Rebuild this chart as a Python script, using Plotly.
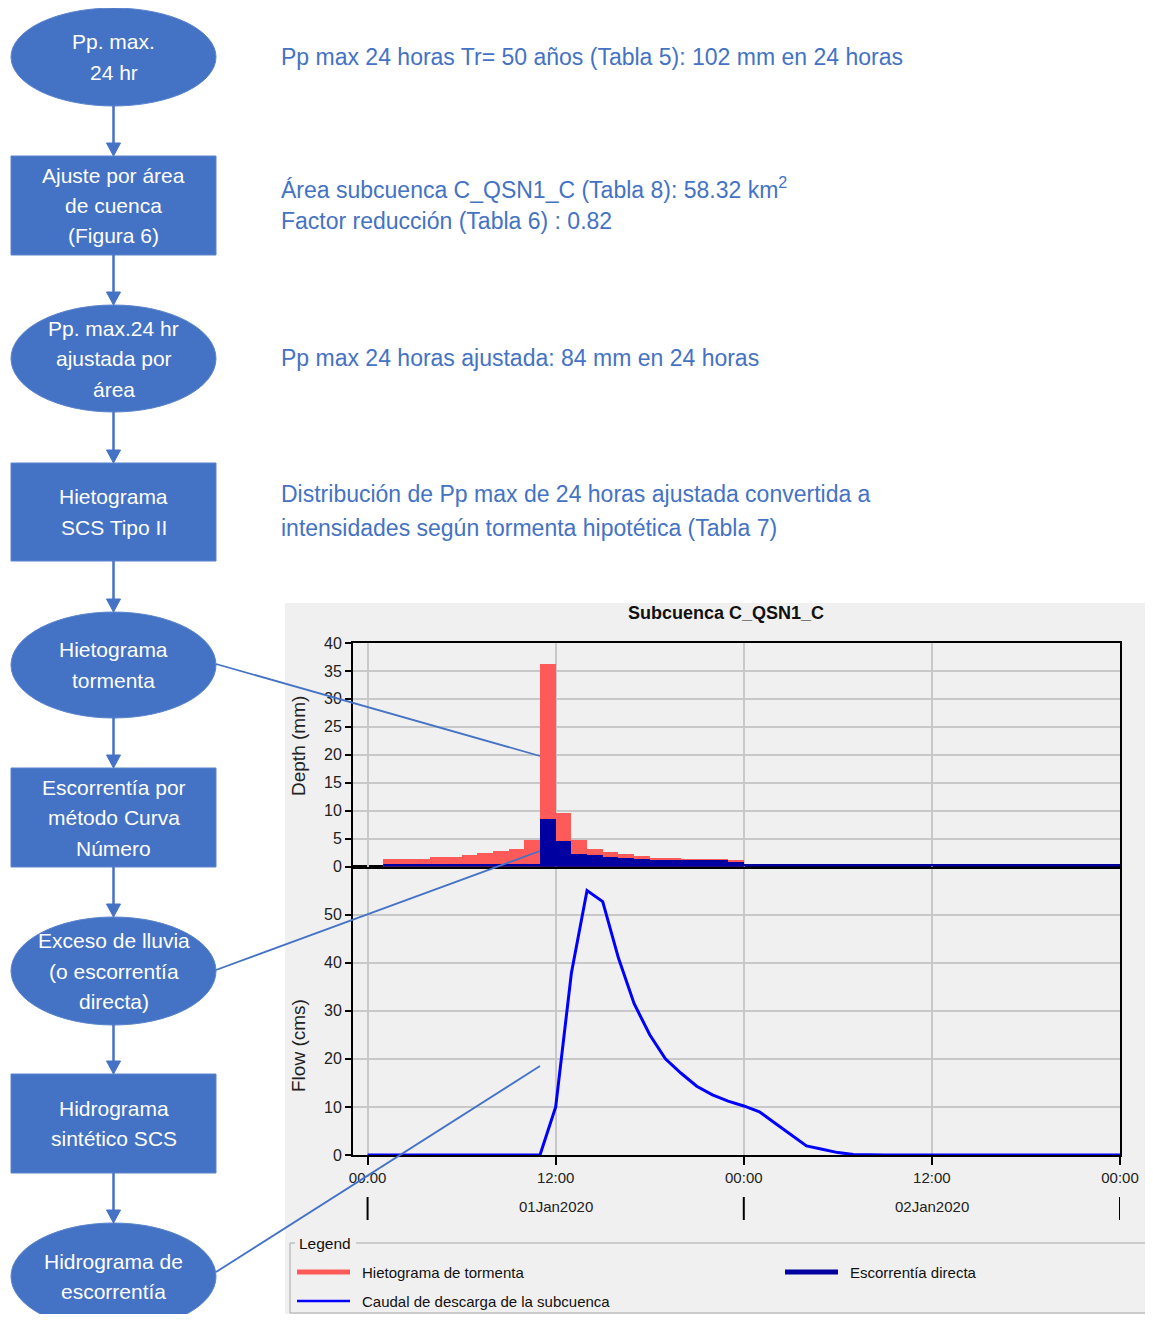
import plotly.graph_objects as go
import pandas as pd

# tamaño de la pagina; el body del html deja 8 px de margen
PAGE_W, PAGE_H = 1153, 1322
OFF = 8
W, H = PAGE_W - 2 * OFF, PAGE_H - 2 * OFF
BLUE = "#4472C4"
SANS = "Liberation Sans, Arial, sans-serif"

# ---- datos del hietograma (intervalos horarios, hora de inicio) ----
interval_hours = list(range(0, 24))
storm_depth = [0.0, 1.3, 1.3, 1.3, 1.7, 1.7, 2.1, 2.5, 2.8, 3.2, 4.8, 36.2,
               9.5, 4.7, 3.2, 2.6, 2.2, 1.8, 1.6, 1.6, 1.4, 1.4, 1.4, 1.2]
excess_depth = [0.0, 0.0, 0.0, 0.0, 0.0, 0.0, 0.0, 0.0, 0.0, 0.0, 0.0, 8.5,
                4.6, 2.3, 2.0, 1.7, 1.6, 1.4, 1.2, 1.2, 1.1, 1.1, 1.1, 0.8]

# ---- hidrograma (caudal horario) ----
flow_hours = list(range(0, 49))
flow_cms = [0, 0, 0, 0, 0, 0, 0, 0, 0, 0, 0, 0,
            10.0, 37.8, 55.0, 52.7, 41.0, 31.5, 25.0, 20.0, 17.0, 14.3, 12.5, 11.2,
            10.2, 9.0, 6.6, 4.2, 1.9, 1.2, 0.5, 0.1,
            0, 0, 0, 0, 0, 0, 0, 0, 0, 0, 0, 0, 0, 0, 0, 0, 0]

depth_ticks = [0, 5, 10, 15, 20, 25, 30, 35, 40]
flow_ticks = [0, 10, 20, 30, 40, 50]
time_tick_hours = [0, 12, 24, 36, 48]
time_tick_text = ["00:00", "12:00", "00:00", "12:00", "00:00"]
day_label_hours = [12, 36]
day_labels = ["01Jan2020", "02Jan2020"]
day_sep_hours = [0, 24, 48]

# ---- diagrama de flujo ----
nodes = [
    ("ellipse", 8, 106, ["Pp. max.", "24 hr"]),
    ("rect", 156, 255, ["Ajuste por área", "de cuenca", "(Figura 6)"]),
    ("ellipse", 305, 412, ["Pp. max.24 hr", "ajustada por", "área"]),
    ("rect", 463, 561, ["Hietograma", "SCS Tipo II"]),
    ("ellipse", 612, 718, ["Hietograma", "tormenta"]),
    ("rect", 768, 867, ["Escorrentía por", "método Curva", "Número"]),
    ("ellipse", 917, 1025, ["Exceso de lluvia", "(o escorrentía", "directa)"]),
    ("rect", 1074, 1173, ["Hidrograma", "sintético SCS"]),
    ("ellipse", 1223, 1330, ["Hidrograma de", "escorrentía"]),
]

notes = [
    (57, "Pp max 24 horas Tr= 50 años (Tabla 5): 102 mm en 24 horas"),
    (188, "Área subcuenca C_QSN1_C (Tabla 8): 58.32 km<sup>2</sup>"),
    (221, "Factor reducción (Tabla 6) : 0.82"),
    (358, "Pp max 24 horas ajustada: 84 mm en 24 horas"),
    (494, "Distribución de Pp max de 24 horas ajustada convertida a"),
    (528, "intensidades según tormenta hipotética (Tabla 7)"),
]

legend_items = [
    ("Hietograma de tormenta", "#FF5A5A", 5),
    ("Escorrentía directa", "#0000A0", 5),
    ("Caudal de descarga de la subcuenca", "#0000FF", 2.5),
]


def px(x):
    return (x - OFF) / W


def py(y):
    return 1 - (y - OFF) / H


def text(t, x, y, size, color="#111111", xanchor="center", family=SANS, **kw):
    return dict(text=t, x=px(x), y=py(y), xref="paper", yref="paper", showarrow=False,
                xanchor=xanchor, yanchor="middle",
                font=dict(family=family, size=size, color=color), **kw)


t0 = pd.Timestamp("2020-01-01 00:00")
hr = pd.Timedelta(hours=1)
bar_x = [t0 + h * hr + hr / 2 for h in interval_hours]
flow_x = [t0 + h * hr for h in flow_hours]
x_range = [t0 - 0.93 * hr, t0 + 48 * hr]

fig = go.Figure()
fig.add_trace(go.Bar(x=bar_x, y=storm_depth, width=3600000, marker_color="#FF5A5A",
                     marker_line_width=0, xaxis="x2", yaxis="y2", name="Hietograma de tormenta"))
fig.add_trace(go.Bar(x=bar_x, y=excess_depth, width=3600000, marker_color="#0000A0",
                     marker_line_width=0, xaxis="x2", yaxis="y2", name="Escorrentía directa"))
# base de escorrentia nula (linea azul oscura sobre el eje)
fig.add_trace(go.Scatter(x=flow_x[1:], y=[0] * len(flow_x[1:]), mode="lines",
                         line=dict(color="#0000A0", width=5), xaxis="x2", yaxis="y2",
                         hoverinfo="skip"))
fig.add_trace(go.Scatter(x=flow_x, y=flow_cms, mode="lines", line=dict(color="#0000FF", width=3),
                         xaxis="x", yaxis="y", name="Caudal de descarga de la subcuenca"))

axis_common = dict(showline=True, linecolor="black", linewidth=2, mirror=True,
                   showgrid=True, gridcolor="#C8C8C8", gridwidth=1.5, zeroline=False,
                   automargin=False)
ytick_font = dict(family=SANS, size=16, color="#222222")
xtick_font = dict(family=SANS, size=15, color="#222222")

fig.update_layout(
    width=W, height=H, margin=dict(l=0, r=0, t=0, b=0, pad=0, autoexpand=False),
    paper_bgcolor="white", plot_bgcolor="white",
    showlegend=False, barmode="overlay", bargap=0,
    xaxis=dict(domain=[px(353), px(1120)], anchor="y", type="date", range=x_range,
               tickvals=[t0 + h * hr for h in time_tick_hours], ticktext=time_tick_text,
               ticks="outside", ticklen=8, tickwidth=2, tickcolor="black",
               tickfont=xtick_font, **axis_common),
    xaxis2=dict(domain=[px(353), px(1120)], anchor="y2", type="date", range=x_range,
                matches="x", tickvals=[t0 + h * hr for h in time_tick_hours],
                showticklabels=False, ticks="", **axis_common),
    yaxis=dict(domain=[py(1155), py(866.5)], anchor="x", range=[0, 60], tickvals=flow_ticks,
               ticks="outside", ticklen=6, tickwidth=2, tickcolor="black",
               tickfont=ytick_font, **axis_common),
    yaxis2=dict(domain=[py(866.5), py(643)], anchor="x2", range=[0, 40], tickvals=depth_ticks,
                ticks="outside", ticklen=6, tickwidth=2, tickcolor="black",
                tickfont=ytick_font, **axis_common),
)

shapes = []
ann = []

# panel gris de HEC-HMS
shapes.append(dict(type="rect", xref="paper", yref="paper", layer="below",
                   x0=px(285), x1=1, y0=0, y1=py(603),
                   fillcolor="#F0F0F0", line=dict(width=0)))

ann.append(text("<b>Subcuenca C_QSN1_C</b>", 726, 613, 18))
ann.append(text("Depth (mm)", 298, 746, 19, color="#222222", textangle=-90))
ann.append(text("Flow (cms)", 298, 1046, 19, color="#222222", textangle=-90))

# fila de fechas bajo el eje temporal
for h, lab in zip(day_label_hours, day_labels):
    ann.append(dict(text=lab, x=t0 + h * hr, y=py(1206), xref="x", yref="paper",
                    showarrow=False, xanchor="center", yanchor="middle", font=xtick_font))
for h in day_sep_hours:
    shapes.append(dict(type="line", xref="x", yref="paper", x0=t0 + h * hr, x1=t0 + h * hr,
                       y0=py(1220), y1=py(1197), line=dict(color="black", width=2)))

# leyenda
gray = "#A8A8A8"
for (x0, y0, x1, y1) in [(290, 1313, 290, 1243), (290, 1313, 1153, 1313),
                         (290, 1243, 295, 1243), (356, 1243, 1153, 1243)]:
    shapes.append(dict(type="line", xref="paper", yref="paper", x0=px(x0), x1=px(x1),
                       y0=py(y0), y1=py(y1), line=dict(color=gray, width=1)))
ann.append(text("Legend", 297, 1243, 15.5, xanchor="left"))
leg_pos = [(297, 1272), (785, 1272), (297, 1301)]
for (lab, col, lw), (lx, ly) in zip(legend_items, leg_pos):
    shapes.append(dict(type="line", xref="paper", yref="paper", x0=px(lx), x1=px(lx + 53),
                       y0=py(ly), y1=py(ly), line=dict(color=col, width=lw)))
    ann.append(text(lab, lx + 63, ly, 15, xanchor="left"))

# diagrama de flujo
NX0, NX1, NXC = 11, 216, 113.5
for kind, top, bot, lines in nodes:
    shapes.append(dict(type="circle" if kind == "ellipse" else "rect", xref="paper", yref="paper",
                       x0=px(NX0), x1=px(NX1), y0=py(bot), y1=py(top),
                       fillcolor=BLUE, line=dict(color="#5A84CE", width=1)))
    yc = (top + bot) / 2
    n = len(lines)
    for i, t in enumerate(lines):
        ann.append(text(t, NXC, yc + (i - (n - 1) / 2) * 30.5, 21, color="white"))

for (k1, t1, b1, _), (k2, t2, b2, _) in zip(nodes[:-1], nodes[1:]):
    shapes.append(dict(type="line", xref="paper", yref="paper", x0=px(NXC), x1=px(NXC),
                       y0=py(b1), y1=py(t2 - 10), line=dict(color=BLUE, width=2.5)))
    path = "M {} {} L {} {} L {} {} Z".format(px(NXC), py(t2), px(NXC - 7), py(t2 - 13),
                                             px(NXC + 7), py(t2 - 13))
    shapes.append(dict(type="path", xref="paper", yref="paper", path=path,
                       fillcolor=BLUE, line=dict(color=BLUE, width=1)))

# conectores hacia el grafico
for (x0, y0, x1, y1) in [(216, 664, 540, 756), (216, 970, 540, 851), (216, 1272, 540, 1066)]:
    shapes.append(dict(type="line", xref="paper", yref="paper", x0=px(x0), y0=py(y0),
                       x1=px(x1), y1=py(y1), line=dict(color=BLUE, width=1.8)))

# notas a la derecha
for y, t in notes:
    ann.append(text(t, 279, y, 23, color=BLUE, xanchor="left"))

fig.update_layout(shapes=shapes, annotations=ann)
fig.write_html("out.html", config={"displayModeBar": False})
